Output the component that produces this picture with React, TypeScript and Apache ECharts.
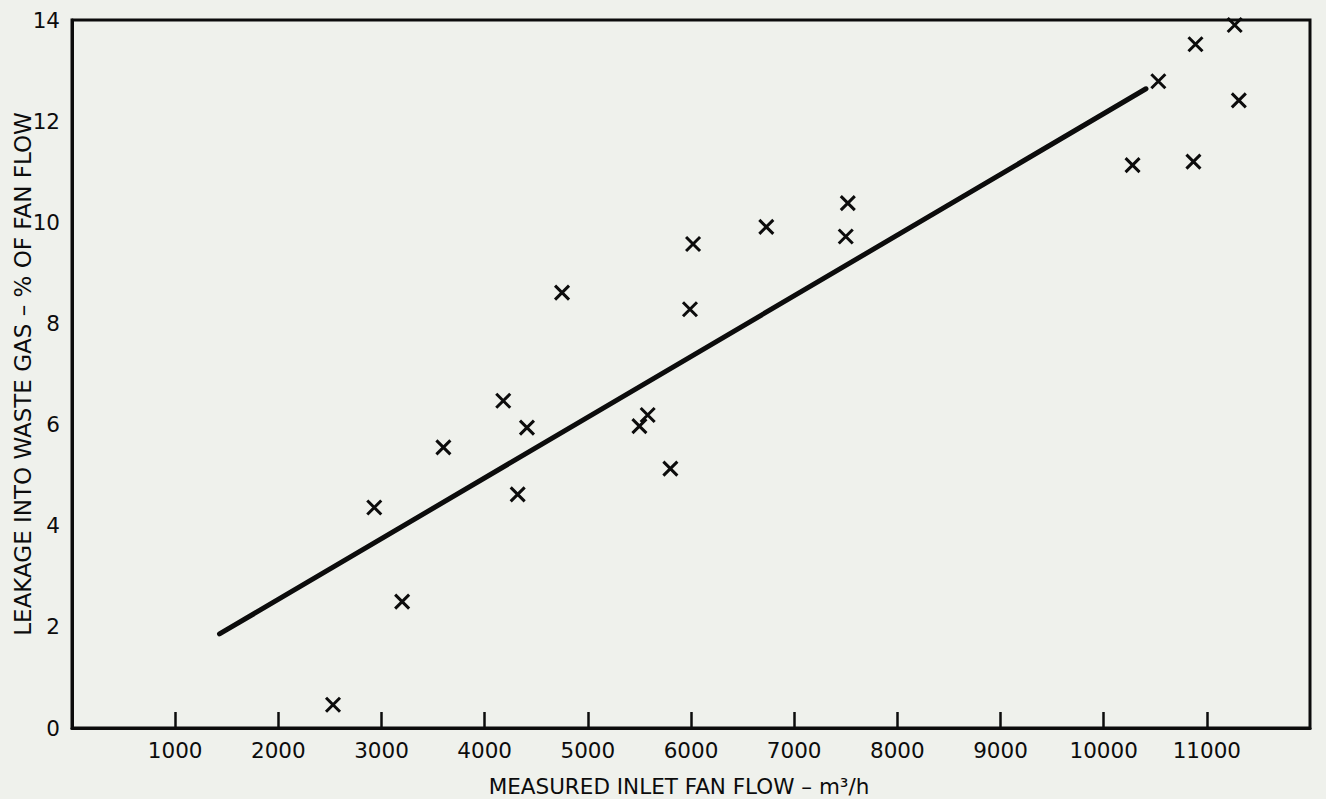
import React, { useEffect, useRef } from "react";
import * as echarts from "echarts";

const flowX = [2530, 2930, 3200, 3600, 4180, 4320, 4410, 4750, 5500, 5580, 5800, 5990, 6020, 6730, 7500, 7520, 10280, 10530, 10870, 10890, 11270, 11310];
const leakY = [0.46, 4.36, 2.5, 5.55, 6.47, 4.62, 5.94, 8.61, 5.97, 6.19, 5.13, 8.28, 9.57, 9.91, 9.72, 10.38, 11.13, 12.79, 11.2, 13.52, 13.9, 12.41];
const fitX = [1430, 10410];
const fitY = [1.86, 12.64];
const xTicks = [1000, 2000, 3000, 4000, 5000, 6000, 7000, 8000, 9000, 10000, 11000];
const xTitle = "MEASURED INLET FAN FLOW – m³/h";
const yTitle = "LEAKAGE INTO WASTE GAS – % OF FAN FLOW";

const FONT = "DejaVu Sans";
const INK = "#0c0c0c";

export default function App() {
  const ref = useRef<HTMLDivElement>(null);
  useEffect(() => {
    if (!ref.current) return;
    const chart = echarts.init(ref.current, undefined, { renderer: "svg" });
    const points = flowX.map((x, i) => [x, leakY[i]]);
    const fit = fitX.map((x, i) => [x, fitY[i]]);
    chart.setOption({
      animation: false,
      backgroundColor: "#eff1ec",
      grid: {
        left: 72,
        right: 16,
        top: 20,
        bottom: 71,
        outerBoundsMode: "none",
        containLabel: false,
        show: true,
        borderColor: INK,
        borderWidth: 3,
        backgroundColor: "transparent",
      },
      xAxis: {
        type: "value",
        min: 0,
        max: 12000,
        interval: 1000,
        name: xTitle,
        nameLocation: "middle",
        nameGap: 47,
        nameMoveOverlap: false,
        nameTextStyle: { fontFamily: FONT, fontSize: 21.5, color: INK, padding: [0, 24, 0, 0] },
        axisLine: { show: true, lineStyle: { color: INK, width: 3 } },
        axisTick: {
          show: true,
          inside: true,
          length: 16,
          lineStyle: { color: INK, width: 2.5 },
        },
        axisLabel: {
          fontFamily: FONT,
          fontSize: 21.5,
          color: INK,
          margin: 11,
          showMinLabel: false,
          showMaxLabel: false,
          formatter: (v: number) => (xTicks.includes(v) ? String(v) : ""),
        },
        splitLine: { show: false },
      },
      yAxis: {
        type: "value",
        min: 0,
        max: 14,
        interval: 2,
        name: yTitle,
        nameLocation: "middle",
        nameGap: 38,
        nameMoveOverlap: false,
        nameRotate: 90,
        nameTextStyle: { fontFamily: FONT, fontSize: 23, color: INK },
        axisLine: { show: true, lineStyle: { color: INK, width: 3 } },
        axisTick: { show: false },
        axisLabel: {
          fontFamily: FONT,
          fontSize: 21.5,
          color: INK,
          margin: 12,
        },
        splitLine: { show: false },
      },
      series: [
        {
          type: "line",
          data: fit,
          symbol: "none",
          lineStyle: { color: INK, width: 5, cap: "round" },
          silent: true,
          z: 2,
        },
        {
          type: "scatter",
          data: points,
          symbol: "path://M0,0L10,10M10,0L0,10",
          symbolSize: 14,
          itemStyle: { color: "none", borderColor: INK, borderWidth: 3, opacity: 1 },
          z: 3,
        },
      ],
    });
    return () => chart.dispose();
  }, []);
  return (
    <div
      ref={ref}
      style={{ position: "fixed", left: 0, top: 0, width: 1326, height: 799 }}
    />
  );
}
